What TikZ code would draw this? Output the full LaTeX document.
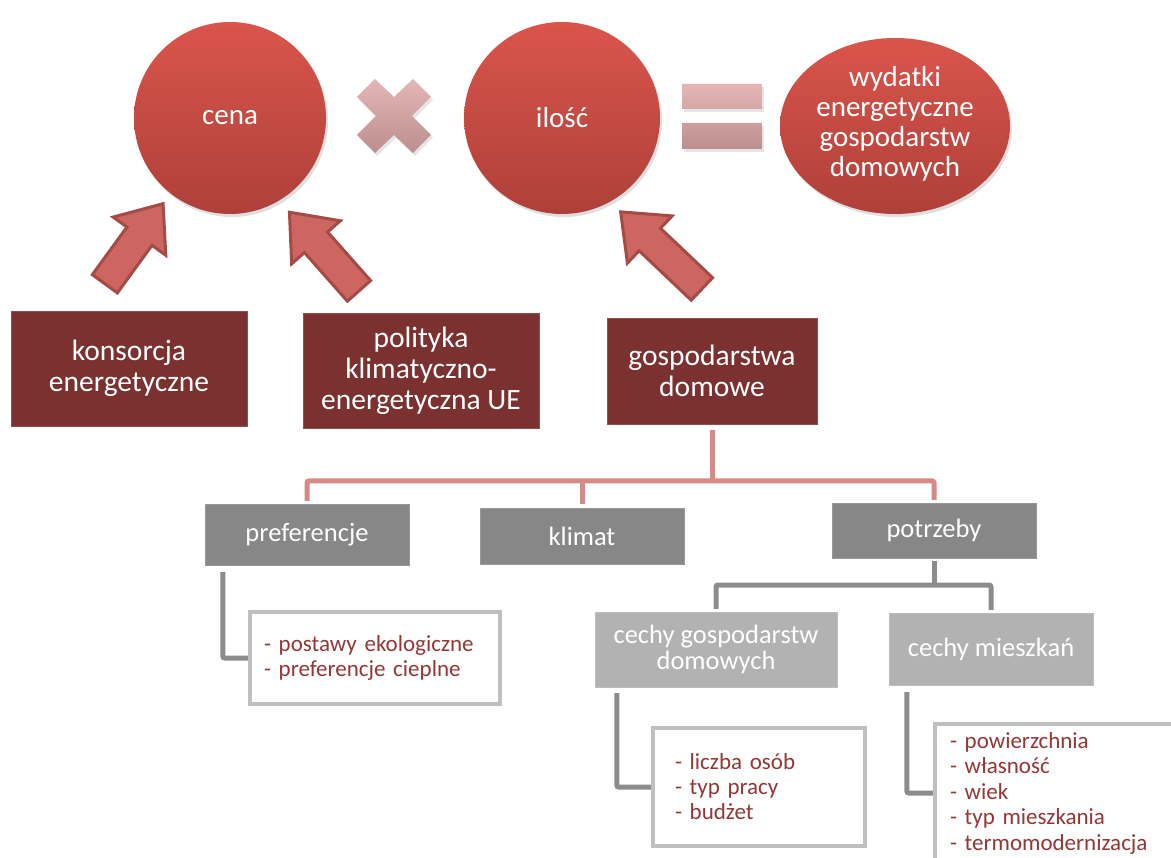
\documentclass[tikz,border=0pt]{standalone}
\usepackage{fontspec}
\setmainfont{Carlito}
\usetikzlibrary{shapes.geometric,shapes.arrows,shadows,positioning,calc}
\definecolor{ovaltop}{HTML}{DA554C}
\definecolor{ovalbot}{HTML}{AE4039}
\definecolor{arrfill}{HTML}{CD6660}
\definecolor{arredge}{HTML}{A54B46}
\definecolor{boxred}{HTML}{7B3130}
\definecolor{midgray}{HTML}{878787}
\definecolor{palegray}{HTML}{B2B2B2}
\definecolor{framegray}{HTML}{BFBFBF}
\definecolor{itemred}{HTML}{953735}
\definecolor{pinkline}{HTML}{D68985}
\definecolor{grayline}{HTML}{8C8C8C}
\definecolor{signtop}{HTML}{E4B6B5}
\definecolor{signbot}{HTML}{BC8E8D}

\begin{document}
\begin{tikzpicture}[x=1pt, y=-1pt,
  oval/.style={ellipse, shading=axis, top color=ovaltop, bottom color=ovalbot, text=white, align=center,
    font=\fontsize{29}{30}\selectfont, inner sep=0pt, drop shadow={opacity=0.25, shadow xshift=2pt, shadow yshift=-3pt}},
  bigarr/.style={single arrow, draw=arredge, fill=arrfill, line width=3pt, inner sep=0pt, text height=28pt, text depth=0pt,
    minimum width=62pt, single arrow head extend=17pt, single arrow tip angle=78, anchor=tail},
  redbox/.style={rectangle, fill=boxred, draw=boxred!85!white, text=white, align=center, inner sep=0pt,
    font=\fontsize{29.5}{31}\selectfont},
  graybox/.style={rectangle, fill=midgray, draw=midgray!85!white, text=white, align=center, inner sep=0pt,
    font=\fontsize{26.5}{26}\selectfont},
  subbox/.style={graybox, fill=palegray, draw=palegray!85!white},
  itembox/.style={rectangle, draw=framegray, line width=4.5pt, fill=white, text=itemred, align=left, inner ysep=0pt,
    font=\fontsize{23}{25}\selectfont},
  signshade/.style={top color=signtop, bottom color=signbot, drop shadow={opacity=0.2, shadow xshift=2pt, shadow yshift=-3pt}},
  pinkconn/.style={draw=pinkline, line width=5pt},
  grayconn/.style={draw=grayline, line width=5pt}]
\fill[white] (0,0) rectangle (1171,858);
\useasboundingbox (0,0) rectangle (1171,858);

% top row: cena x ilosc = wydatki
\node[oval, minimum width=192pt, minimum height=192pt] (cena) at (230,118) {cena};
\node[oval, minimum width=196pt, minimum height=192pt] (ilosc) at (562,118) {ilość};
\node[oval, minimum width=230pt, minimum height=176pt] (wydatki) at (895,126)
  {\raisebox{6pt}{\begin{tabular}{@{}c@{}}wydatki\\energetyczne\\gospodarstw\\domowych\end{tabular}}};
\shade[signshade, shift={(394,116)}] (-37,-19) -- (-19,-37) -- (0,-19) -- (19,-37) -- (37,-19) -- (18,0) -- (37,19) -- (19,37)
  -- (0,19) -- (-19,37) -- (-37,19) -- (-18,0) -- cycle;
\shade[signshade] (682,84) rectangle (762,109) (682,123) rectangle (762,149);

% actors
\node[redbox, minimum width=236pt, minimum height=115pt] (kons) at (129,368.5) {konsorcja\\energetyczne};
\node[redbox, minimum width=236pt, minimum height=115pt] (polit) at (421,370.5) {polityka\\klimatyczno-\\energetyczna UE};
\node[redbox, minimum width=210pt, minimum height=106pt] (gosp) at (712,371) {gospodarstwa\\domowe};

\node[bigarr, minimum height=99pt, rotate=54] (arr1) at (104,285) {};
\node[bigarr, minimum height=105pt, rotate=131.5] (arr2) at (360,292) {};
\node[bigarr, minimum height=112pt, rotate=136.5] (arr3) at (703,290) {};

% factors of households
\node[graybox, minimum width=204pt, minimum height=61pt] (pref) at (307,534.5) {preferencje};
\node[graybox, minimum width=204pt, minimum height=56pt] (klimat) at (582,536) {klimat};
\node[graybox, minimum width=204pt, minimum height=55pt] (potrz) at (934,530.5) {potrzeby};
\node[subbox, minimum width=242pt, minimum height=75pt] (cechyg) at (716,649.5) {cechy gospodarstw\\domowych};
\node[subbox, minimum width=204pt, minimum height=72pt] (cechym) at (991,649) {cechy mieszkań};

\node[itembox, text width=222pt, inner xsep=14pt, minimum height=92pt] (prefd) at (375,658)
  {- postawy ekologiczne\\- preferencje cieplne};
\node[itembox, text width=168pt, inner xsep=22pt, minimum height=118pt] (liczd) at (759,787)
  {- liczba osób\\- typ pracy\\- budżet};
\node[itembox, text width=235pt, inner xsep=15pt, minimum height=138pt, font=\fontsize{23}{25.5}\selectfont] (mieszd) at (1067.5,793)
  {- powierzchnia\\- własność\\- wiek\\- typ mieszkania\\- termomodernizacja};

% connectors
\coordinate (bus) at (0,481);
\coordinate (gbus) at (0,585);
\draw[pinkconn, shorten <=6pt] (gosp.south) -- (gosp.south |- bus);
\draw[pinkconn, shorten <=3pt, shorten >=3pt, rounded corners=2pt] (pref.north) |- (klimat.north |- bus) -| (potrz.north);
\draw[pinkconn, shorten <=4pt] (klimat.north) -- (klimat.north |- bus);
\draw[grayconn, shorten <=3pt] (potrz.south) -- (potrz.south |- gbus);
\draw[grayconn, shorten <=3pt, shorten >=3pt, rounded corners=2pt] (cechyg.north) |- (potrz.south |- gbus) -| (cechym.north);
\draw[grayconn, shorten <=7pt, rounded corners=2pt] ($(pref.south west)+(18,0)$) |- (prefd.west);
\draw[grayconn, shorten <=6pt, rounded corners=2pt] ($(cechyg.south west)+(22,0)$) |- (liczd.west);
\draw[grayconn, shorten <=7pt, rounded corners=2pt] ($(cechym.south west)+(18,0)$) |- (mieszd.west);
\end{tikzpicture}
\end{document}
